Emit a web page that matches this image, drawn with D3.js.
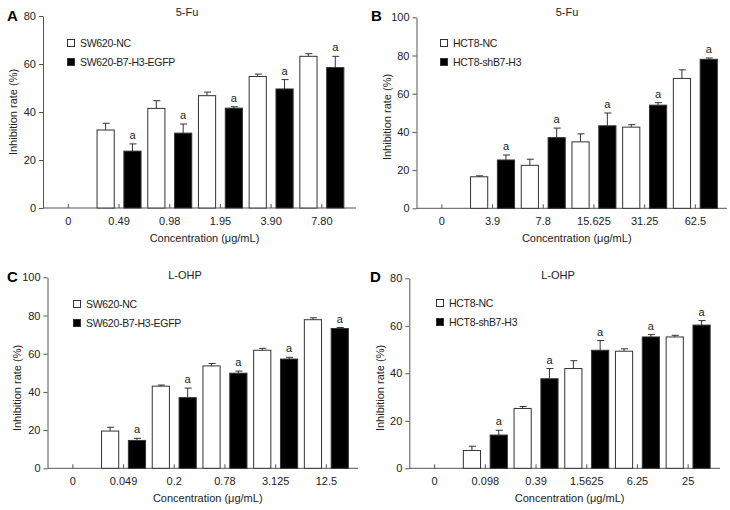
<!DOCTYPE html>
<html><head><meta charset="utf-8">
<script src="https://cdn.jsdelivr.net/npm/d3@7"></script>
<style>
body{margin:0;background:#fff;}
svg{display:block;font-family:"Liberation Sans",Arial,sans-serif;}
</style></head>
<body><svg id="chart" width="730" height="510"></svg>
<script>
// ---- data ----
const catsA = ["0","0.49","0.98","1.95","3.90","7.80"];
const ncA   = [null,32.5,41.5,46.8,54.8,63.2];
const ncErrA= [null,2.8,3.2,1.5,1.0,1.1];
const trA   = [null,23.7,31.2,41.6,49.6,58.5];
const trErrA= [null,3.0,3.8,0.6,3.9,4.7];

const catsB = ["0","3.9","7.8","15.625","31.25","62.5"];
const ncB   = [null,16.5,22.5,34.8,42.5,68.0];
const ncErrB= [null,0.5,3.2,4.2,1.3,4.5];
const trB   = [null,25.3,37.0,43.2,54.0,78.0];
const trErrB= [null,2.6,5.0,6.7,1.3,0.7];

const catsC = ["0","0.049","0.2","0.78","3.125","12.5"];
const ncC   = [null,19.5,43.0,53.6,61.8,77.8];
const ncErrC= [null,2.0,0.6,1.3,1.0,1.0];
const trC   = [null,14.6,37.0,49.8,57.2,73.2];
const trErrC= [null,1.1,5.0,1.1,0.9,0.5];

const catsD = ["0","0.098","0.39","1.5625","6.25","25"];
const ncD   = [null,7.5,25.2,42.0,49.3,55.3];
const ncErrD= [null,1.8,0.8,3.3,1.0,0.7];
const trD   = [null,14.0,37.7,49.7,55.3,60.3];
const trErrD= [null,2.0,4.3,4.1,1.0,1.9];

const ticks80  = [0,20,40,60,80];
const ticks100 = [0,20,40,60,80,100];
const legendSW = ["SW620-NC","SW620-B7-H3-EGFP"];
const legendHCT= ["HCT8-NC","HCT8-shB7-H3"];
const titles = ["5-Fu","5-Fu","L-OHP","L-OHP"];
const letters = ["A","B","C","D"];

// ---- layout ----
const panels = [
  {cats:catsA,nc:ncA,ncE:ncErrA,tr:trA,trE:trErrA,max:80,ticks:ticks80,leg:legendSW,
   ax:43,y0:208,y1:16,xEnd:356,legX:67,legY:39,title:titles[0],tx:187,ty:16,letter:letters[0],lx:7,ly:21,ylx:13,yly:112,xly:242,tly:225},
  {cats:catsB,nc:ncB,ncE:ncErrB,tr:trB,trE:trErrB,max:100,ticks:ticks100,leg:legendHCT,
   ax:416.5,y0:208.3,y1:17.3,xEnd:727,legX:440,legY:39,title:titles[1],tx:567,ty:16,letter:letters[1],lx:371,ly:21,ylx:387,yly:117,xly:242,tly:225},
  {cats:catsC,nc:ncC,ncE:ncErrC,tr:trC,trE:trErrC,max:100,ticks:ticks100,leg:legendSW,
   ax:47.5,y0:468.3,y1:277.3,xEnd:358,legX:73,legY:300,title:titles[2],tx:185,ty:279,letter:letters[2],lx:7,ly:282,ylx:17,yly:388,xly:502,tly:485},
  {cats:catsD,nc:ncD,ncE:ncErrD,tr:trD,trE:trErrD,max:80,ticks:ticks80,leg:legendHCT,
   ax:409.3,y0:468.3,y1:278.3,xEnd:720,legX:436,legY:299,title:titles[3],tx:558,ty:279,letter:letters[3],lx:370,ly:282,ylx:380,yly:388,xly:502,tly:485}
];

const svg = d3.select("#chart");
const ink = "#222", axisCol = "#555";

panels.forEach(p => {
  const g = svg.append("g");
  const step = 50.7;
  const x = d3.scaleBand().domain(p.cats).range([p.ax, p.ax + step*p.cats.length]).padding(0);
  const sub = d3.scaleBand().domain(["nc","tr"]).range([-22,22]).paddingInner(0.36);
  const y = d3.scaleLinear().domain([0,p.max]).range([p.y0,p.y1]);
  const cx = c => x(c) + x.bandwidth()/2;

  // y axis
  const yAxis = d3.axisLeft(y).tickValues(p.ticks).tickSize(4).tickPadding(3).tickSizeOuter(0);
  const ya = g.append("g").attr("transform",`translate(${p.ax},0)`).call(yAxis);
  ya.select(".domain").attr("stroke",axisCol);
  ya.selectAll(".tick line").attr("stroke",axisCol);
  ya.selectAll("text").attr("font-size",11).attr("fill",ink).attr("font-family","Liberation Sans, Arial, sans-serif");

  // x axis (ticks pointing up, inside)
  const xAxis = d3.axisBottom(x).tickSize(-4).tickSizeOuter(0).tickPadding(9);
  const xa = g.append("g").attr("transform",`translate(0,${p.y0})`).call(xAxis);
  xa.select(".domain").remove();
  xa.selectAll(".tick line").attr("stroke",axisCol);
  xa.selectAll("text").attr("font-size",11).attr("fill",ink).attr("font-family","Liberation Sans, Arial, sans-serif").attr("dy","0.71em");
  g.append("line").attr("x1",p.ax).attr("x2",p.xEnd).attr("y1",p.y0).attr("y2",p.y0).attr("stroke",axisCol);

  const series = [
    {key:"nc",vals:p.nc,errs:p.ncE,fill:"#fff",sig:false},
    {key:"tr",vals:p.tr,errs:p.trE,fill:"#000",sig:true}
  ];
  series.forEach(s => {
    p.cats.forEach((c,i) => {
      const v = s.vals[i];
      if (v == null) return;
      const bx = cx(c) + sub(s.key);
      const bw = sub.bandwidth();
      const top = v + s.errs[i];
      const mx = bx + bw/2;
      // error bar
      g.append("line").attr("x1",mx).attr("x2",mx).attr("y1",y(v)).attr("y2",y(top)).attr("stroke","#333").attr("stroke-width",1);
      g.append("line").attr("x1",mx-3).attr("x2",mx+4).attr("y1",y(top)).attr("y2",y(top)).attr("stroke","#333").attr("stroke-width",1);
      g.append("rect").attr("x",bx).attr("y",y(v)).attr("width",bw).attr("height",p.y0-y(v))
        .attr("fill",s.fill).attr("stroke","#333").attr("stroke-width",1);
      if (s.sig) {
        g.append("text").attr("x",mx).attr("y",y(top)-5).attr("text-anchor","middle")
          .attr("font-size",11).attr("fill",ink).text("a");
      }
    });
  });

  // legend
  p.leg.forEach((t,i) => {
    const ly = p.legY + i*19;
    g.append("rect").attr("x",p.legX+0.5).attr("y",ly+0.5).attr("width",7).attr("height",7)
      .attr("fill", i===0?"#fff":"#000").attr("stroke","#333");
    g.append("text").attr("x",p.legX+13).attr("y",ly+8).attr("font-size",10.5).attr("letter-spacing","-0.3")
      .attr("fill",ink).text(t);
  });

  // titles & labels
  g.append("text").attr("x",p.tx).attr("y",p.ty).attr("text-anchor","middle").attr("font-size",11).attr("fill",ink).text(p.title);
  g.append("text").attr("x",p.lx).attr("y",p.ly).attr("font-size",15).attr("font-weight","bold").attr("fill","#000").text(p.letter);
  g.append("text").attr("transform",`translate(${p.ylx},${p.yly}) rotate(-90)`).attr("text-anchor","middle")
    .attr("dy","0.35em").attr("font-size",11).attr("fill",ink).text("Inhibition rate (%)");
  g.append("text").attr("x",(p.ax+p.xEnd)/2+5).attr("y",p.xly).attr("text-anchor","middle").attr("font-size",11).attr("fill",ink)
    .text("Concentration (μg/mL)");
});
</script></body></html>
